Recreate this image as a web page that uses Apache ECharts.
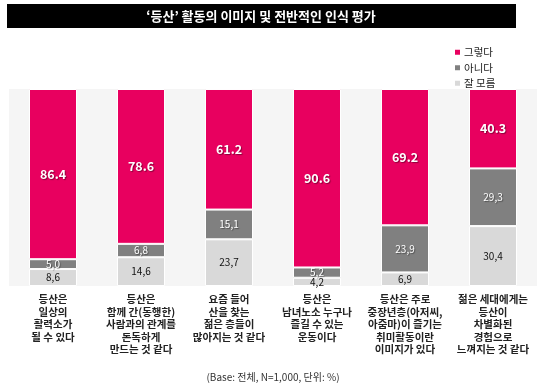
<!DOCTYPE html>
<html>
<head>
<meta charset="utf-8">
<script src="https://cdn.jsdelivr.net/npm/echarts@6/dist/echarts.min.js"></script>
<style>
html,body{margin:0;padding:0;background:#fff;}
#c{width:546px;height:392px;}
</style>
</head>
<body>
<div id="c"></div>
<script>
var categories = [
  "등산은\n일상의\n활력소가\n될 수 있다",
  "등산은\n함께 간(동행한)\n사람과의 관계를\n돈독하게\n만드는 것 같다",
  "요즘 들어\n산을 찾는\n젊은 층들이\n많아지는 것 같다",
  "등산은\n남녀노소 누구나\n즐길 수 있는\n운동이다",
  "등산은 주로\n중장년층(아저씨,\n아줌마)이 즐기는\n취미활동이란\n이미지가 있다",
  "젊은 세대에게는\n등산이\n차별화된\n경험으로\n느껴지는 것 같다"
];
var seriesNames = ["그렇다", "아니다", "잘 모름"];
var yesValues = [86.4, 78.6, 61.2, 90.6, 69.2, 40.3];
var noValues = [5.0, 6.8, 15.1, 5.2, 23.9, 29.3];
var unknownValues = [8.6, 14.6, 23.7, 4.2, 6.9, 30.4];
var titleText = "‘등산’ 활동의 이미지 및 전반적인 인식 평가";
var noteText = "(Base: 전체, N=1,000, 단위: %)";

var FONT = '"Noto Sans CJK KR", "Noto Sans", sans-serif';
var chart = echarts.init(document.getElementById('c'));
function comma(p){ return p.value.toFixed(1).replace('.', ','); }
chart.setOption({
  animation: false,
  backgroundColor: '#ffffff',
  textStyle: { fontFamily: FONT },
  graphic: [
    { type: 'rect', shape: { x: 7, y: 4, width: 509, height: 24 }, style: { fill: '#000000' }, z: 0 },
    { type: 'text', x: 261, y: 16, style: { text: titleText, fill: '#ffffff', font: 'bold 13px ' + FONT, textAlign: 'center', textVerticalAlign: 'middle' }, z: 1 },
    { type: 'text', x: 273, y: 377, style: { text: noteText, fill: '#333333', font: '10px ' + FONT, textAlign: 'center', textVerticalAlign: 'middle' } }
  ],
  legend: {
    orient: 'vertical', left: 448, top: 42,
    itemWidth: 7, itemHeight: 7, itemGap: 5,
    icon: 'rect',
    data: seriesNames,
    textStyle: { fontSize: 10.5, color: '#222', fontFamily: FONT, padding: [0, 0, 0, -2] }
  },
  grid: { left: 9, right: 9, top: 89, bottom: 106, show: true, backgroundColor: '#f5f5f5', borderWidth: 0 },
  xAxis: {
    type: 'category', data: categories,
    axisLine: { show: false }, axisTick: { show: false },
    axisLabel: { interval: 0, margin: 7, fontSize: 10.5, lineHeight: 12.5, color: '#222', fontWeight: 'bold', fontFamily: FONT, verticalAlign: 'top' }
  },
  yAxis: { type: 'value', min: 0, max: 100, show: false, splitLine: { show: false } },
  series: [
    { name: seriesNames[2], type: 'bar', stack: 's', data: unknownValues, barWidth: 48,
      itemStyle: { color: '#d9d9d9', borderColor: '#ffffff', borderWidth: 1 },
      label: { show: true, position: 'inside', formatter: comma, color: '#111', fontSize: 10, fontFamily: FONT } },
    { name: seriesNames[1], type: 'bar', stack: 's', data: noValues, barWidth: 48,
      itemStyle: { color: '#808080', borderColor: '#ffffff', borderWidth: 1 },
      label: { show: true, position: 'inside', formatter: comma, color: '#ffffff', fontSize: 10, fontFamily: FONT, textShadowColor: 'rgba(0,0,0,0.4)', textShadowBlur: 1, textShadowOffsetX: 1, textShadowOffsetY: 1 } },
    { name: seriesNames[0], type: 'bar', stack: 's', data: yesValues, barWidth: 48,
      itemStyle: { color: '#e8005f', borderColor: '#ffffff', borderWidth: 1 },
      label: { show: true, position: 'inside', formatter: function(p){ return p.value.toFixed(1); }, color: '#ffffff', fontSize: 12.5, fontWeight: 'bold', fontFamily: FONT, textShadowColor: 'rgba(0,0,0,0.4)', textShadowBlur: 1, textShadowOffsetX: 1, textShadowOffsetY: 1 } }
  ]
});
</script>
</body>
</html>
